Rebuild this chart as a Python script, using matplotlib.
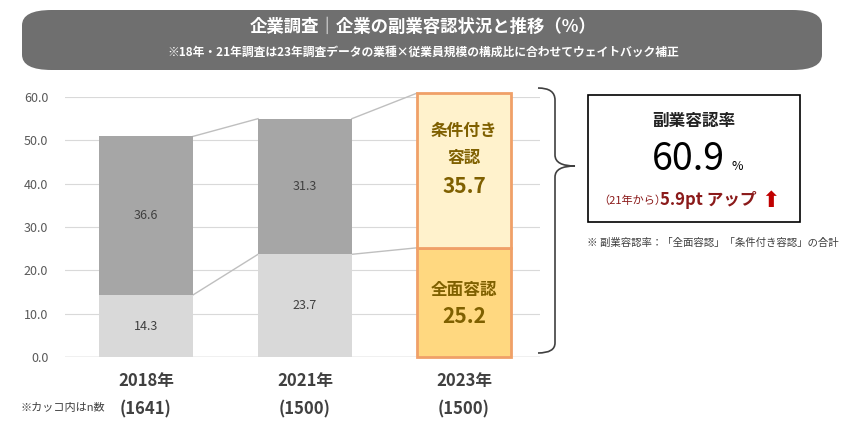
import matplotlib
matplotlib.use("Agg")
import matplotlib.pyplot as plt
from matplotlib.patches import FancyBboxPatch, Rectangle, PathPatch
from matplotlib.path import Path

plt.rcParams["font.family"] = "Noto Sans CJK JP"

years = ["2018年", "2021年", "2023年"]
ns = ["(1641)", "(1500)", "(1500)"]
full = [14.3, 23.7, 25.2]
cond = [36.6, 31.3, 35.7]
yticks = [0, 10, 20, 30, 40, 50, 60]

W, H = 846, 430
fig = plt.figure(figsize=(W/100, H/100), dpi=100)
def fx(x): return x / W
def fy(y): return 1 - y / H

ax = fig.add_axes([fx(65), fy(357), (540-65)/W, 260/H])
ax.set_xlim(-0.509, 2.478)
ax.set_ylim(0, 60)
ax.set_yticks(yticks)
ax.set_yticklabels([f"{v:.1f}" for v in yticks], fontsize=9, color="#595959")
ax.tick_params(length=0, pad=12)
ax.set_xticks([])
ax.grid(axis="y", color="#d9d9d9", lw=0.8)
ax.set_axisbelow(True)
for s in ax.spines.values():
    s.set_visible(False)
ax.axhline(0, color="#bfbfbf", lw=1)

bw = 0.59
lowc = ["#d9d9d9", "#d9d9d9", "#ffd880"]
upc = ["#a6a6a6", "#a6a6a6", "#fff2cc"]
for i in range(3):
    ec = "#f0a068" if i == 2 else "none"
    lw = 2 if i == 2 else 0
    ax.bar(i, full[i], bw, color=lowc[i], edgecolor=ec, linewidth=lw, zorder=3, clip_on=False)
    ax.bar(i, cond[i], bw, bottom=full[i], color=upc[i], edgecolor=ec, linewidth=lw, zorder=3, clip_on=False)
    if i < 2:
        ax.text(i, full[i]/2, f"{full[i]}", ha="center", va="center", fontsize=9, color="#404040", zorder=4)
        ax.text(i, full[i]+cond[i]/2, f"{cond[i]}", ha="center", va="center", fontsize=9, color="#404040", zorder=4)
        for tops in ([full[i], full[i+1]], [full[i]+cond[i], full[i+1]+cond[i+1]]):
            ax.plot([i+bw/2, i+1-bw/2], tops, color="#bfbfbf", lw=1, zorder=2, clip_on=False)
gold = "#7f6000"
ax.text(2, full[2]/2+2.8, "全面容認", ha="center", va="center", fontsize=12, color=gold, weight="bold", zorder=4)
ax.text(2, full[2]/2-3.2, f"{full[2]}", ha="center", va="center", fontsize=15, color=gold, weight="bold", zorder=4)
ax.text(2, full[2]+cond[2]/2+6, "条件付き\n容認", ha="center", va="center", fontsize=12, color=gold, weight="bold", linespacing=1.7, zorder=4)
ax.text(2, full[2]+cond[2]/2-3.7, f"{cond[2]}", ha="center", va="center", fontsize=15, color=gold, weight="bold", zorder=4)

for i in range(3):
    ax.text(i, -5.5, years[i], ha="center", va="center", fontsize=12, weight="bold", color="#404040")
    ax.text(i, -12, ns[i], ha="center", va="center", fontsize=12, weight="bold", color="#404040")
fig.text(fx(20), fy(408), "※カッコ内はn数", fontsize=8, va="center", color="#404040")

# header
fig.patches.append(FancyBboxPatch((fx(22), fy(70)), fx(800), 60/H,
    boxstyle="round,pad=0,rounding_size=0.035", transform=fig.transFigure,
    facecolor="#6f6f6f", edgecolor="none", mutation_aspect=H/W*2))
fig.text(0.5, fy(27), "企業調査｜企業の副業容認状況と推移（%）", ha="center", va="center",
         fontsize=12.5, color="white", weight="bold")
fig.text(0.5, fy(52), "※18年・21年調査は23年調査データの業種×従業員規模の構成比に合わせてウェイトバック補正",
         ha="center", va="center", fontsize=8.5, color="white", weight="bold")

# brace
def P(x, y): return (fx(x), fy(y))
verts = [P(538, 88), P(555, 88), P(555, 100), P(555, 155),
         P(555, 166), P(575, 166), P(555, 166), P(555, 177),
         P(555, 343), P(555, 353), P(538, 353)]
codes = [Path.MOVETO, Path.CURVE3, Path.CURVE3, Path.LINETO,
         Path.CURVE3, Path.CURVE3, Path.CURVE3, Path.CURVE3,
         Path.LINETO, Path.CURVE3, Path.CURVE3]
fig.patches.append(PathPatch(Path(verts, codes), transform=fig.transFigure,
                             facecolor="none", edgecolor="#404040", lw=1.2))

# info box
fig.patches.append(Rectangle((fx(588), fy(222)), (800-588)/W, (222-95)/H,
                             transform=fig.transFigure, facecolor="white", edgecolor="black", lw=1.2))
fig.text(fx(694), fy(121), "副業容認率", ha="center", va="center", fontsize=12, weight="bold", color="#222222")
fig.text(fx(688), fy(160), "60.9", ha="center", va="center", fontsize=27, color="black")
fig.text(fx(737), fy(166), "%", ha="center", va="center", fontsize=9, color="black")
red = "#8b1a1a"
fig.text(fx(598), fy(201), "（21年から）", ha="left", va="center", fontsize=8, color=red)
fig.text(fx(660), fy(200), "5.9pt アップ", ha="left", va="center", fontsize=12, weight="bold", color=red)
fig.text(fx(771), fy(201), "⬆", ha="center", va="center", fontsize=16, color="#c00000", family="DejaVu Sans")
fig.text(fx(587), fy(243), "※ 副業容認率：「全面容認」「条件付き容認」の合計", ha="left", va="center", fontsize=7.5, color="#404040")

fig.savefig("out.png", dpi=100)
